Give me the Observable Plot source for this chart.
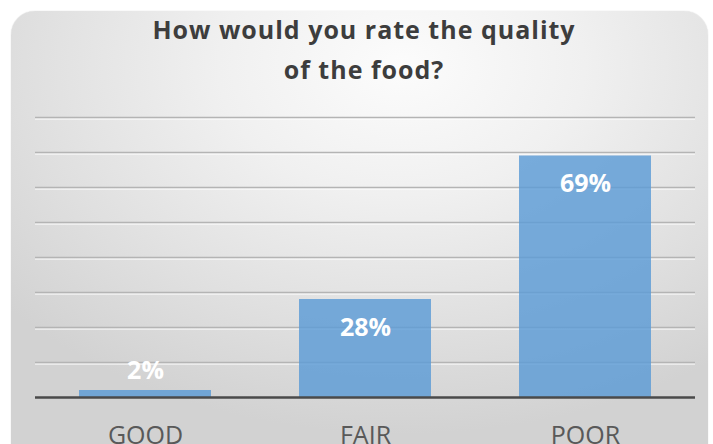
<!DOCTYPE html>
<html>
<head>
<meta charset="utf-8">
<script src="https://cdn.jsdelivr.net/npm/d3@7"></script>
<script src="https://cdn.jsdelivr.net/npm/@observablehq/plot@0.6"></script>
<style>
  html, body { margin: 0; padding: 0; background: #ffffff; overflow: hidden; }
  #wrap { position: relative; width: 713px; height: 444px; overflow: hidden; }
  #card {
    position: absolute; left: 11px; top: 11px; width: 697px; height: 460px;
    border-radius: 24px;
    background: radial-gradient(ellipse 75% 80% at 56% 12%, #fcfcfc 0%, #f0f0f0 35%, #e0e0e0 70%, #d2d2d2 100%);
    box-shadow: 0 0 1px rgba(0,0,0,0.25);
  }
  #title {
    position: relative; width: 713px; height: 100px; box-sizing: border-box;
    padding-top: 9px; padding-left: 15px;
    text-align: center; font-family: "Open Sans", sans-serif; font-weight: 700;
    font-size: 25px; letter-spacing: 1px; line-height: 40px; color: #3d3d3d;
  }
  #chart { position: relative; }
</style>
</head>
<body>
<div id="wrap">
  <div id="card"></div>
  <div id="title">How would you rate the quality<br>of the food?</div>
  <div id="chart"></div>
</div>
<script>
const categories = ["GOOD", "FAIR", "POOR"];
const values = [2, 28, 69];
const gridTicks = [10, 20, 30, 40, 50, 60, 70, 80];

const data = categories.map((c, i) => ({category: c, value: values[i]}));
const tall = data.filter(d => d.value >= 5);
const short = data.filter(d => d.value < 5);

const chart = Plot.plot({
  width: 713,
  height: 344,
  marginLeft: 35,
  marginRight: 18,
  marginTop: 17,
  marginBottom: 47,
  style: {background: "transparent", fontFamily: "Open Sans, sans-serif"},
  x: {domain: categories, paddingInner: 0.4, paddingOuter: 0.2, label: null},
  y: {domain: [0, 80], axis: null},
  marks: [
    Plot.ruleY(gridTicks, {stroke: "#ffffff", strokeWidth: 1.5, dy: 1.5, strokeOpacity: 0.7}),
    Plot.ruleY(gridTicks, {stroke: "#b4b4b4", strokeWidth: 1.5}),
    Plot.barY(data, {x: "category", y: "value", fill: "#5b9bd5", fillOpacity: 0.82}),
    Plot.ruleY([0], {stroke: "#4a4a4a", strokeWidth: 2.5}),
    Plot.text(tall, {
      x: "category", y: "value", text: d => d.value + "%",
      dy: 28, fill: "#ffffff", fontSize: 25, fontWeight: 700
    }),
    Plot.text(short, {
      x: "category", y: "value", text: d => d.value + "%",
      dy: -20, fill: "#ffffff", fontSize: 25, fontWeight: 700
    }),
    Plot.axisX({tickSize: 0, tickPadding: 29, fontSize: 25, color: "#595959", fill: "#595959", label: null})
  ]
});

document.getElementById("chart").appendChild(chart);
</script>
</body>
</html>
